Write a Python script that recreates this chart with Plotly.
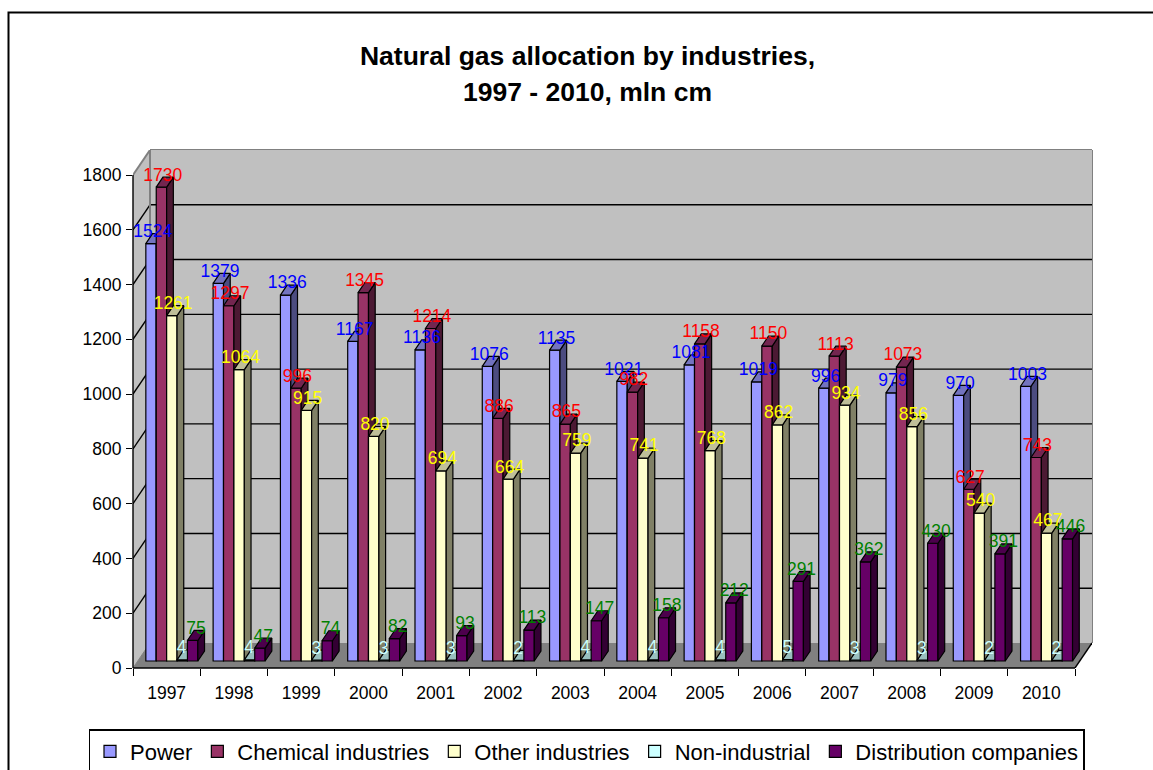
import plotly.graph_objects as go

years = [1997, 1998, 1999, 2000, 2001, 2002, 2003, 2004, 2005, 2006, 2007, 2008, 2009, 2010]
power = [1524, 1379, 1336, 1167, 1136, 1076, 1135, 1021, 1081, 1019, 996, 979, 970, 1003]
chemical = [1730, 1297, 996, 1345, 1214, 886, 865, 982, 1158, 1150, 1113, 1073, 627, 743]
other = [1261, 1064, 915, 820, 694, 664, 759, 741, 768, 862, 934, 856, 540, 467]
non_industrial = [4, 4, 3, 3, 3, 2, 4, 4, 4, 5, 3, 3, 2, 2]
distribution = [75, 47, 74, 82, 93, 113, 147, 158, 212, 291, 362, 430, 391, 446]
y_ticks = [0, 200, 400, 600, 800, 1000, 1200, 1400, 1600, 1800]

series = [
    ("Power", power, "#9999FF", "#4C4C80", "#7373BF", "#0000FF", 1.7),
    ("Chemical industries", chemical, "#993366", "#4C1933", "#732650", "#FF0000", 1.3),
    ("Other industries", other, "#FFFFCC", "#808066", "#BFBF99", "#FFFF00", 1.3),
    ("Non-industrial", non_industrial, "#CCFFFF", "#668080", "#99BFBF", "#CCFFFF", -0.5),
    ("Distribution companies", distribution, "#660066", "#330033", "#4C004C", "#008000", 3.3),
]

# The figure runs a little past the 770 px window: the chart frame and the legend box
# are cut off by the bottom of the picture, as in the reference.
W, H = 1153, 800
FONT = "Liberation Sans, Arial, sans-serif"
TICK_SIZE = 17.5
# pixel layout of the chart box
X0, X14 = 133.0, 1075.0
Y0, Y1800 = 668.0, 175.0
WALL_DX, WALL_DY = 17.0, 25.0
BAR_DX, BAR_DY = 6.7, 10.0
BAR_W = 10.4
SHIFT_X, SHIFT_Y = 5.2, 7.0

ux = (X14 - X0) / 14
uy = (Y0 - Y1800) / 1800
dx_wall, dy_wall = WALL_DX / ux, WALL_DY / uy
dx_bar, dy_bar = BAR_DX / ux, BAR_DY / uy
bw = BAR_W / ux
sx, base = SHIFT_X / ux, SHIFT_Y / uy
x_top = 14 + dx_wall
y_top = 1800 + dy_wall

dom_x = [X0 / W, (X14 + WALL_DX) / W]
dom_y = [(H - Y0) / H, (H - Y1800 + WALL_DY) / H]

fig = go.Figure()


def ax(n):
    return ("x", "y") if n == 1 else (f"x{n}", f"y{n}")


# invisible anchor for the base subplot
fig.add_trace(go.Scatter(x=[0], y=[0], mode="markers", marker=dict(opacity=0),
                         showlegend=False, hoverinfo="skip", xaxis="x", yaxis="y"))

label_traces = []
for k, (name, vals, col, side, top, lab, lab_dx) in enumerate(series):
    xa, ya = ax(k + 2)
    xs = [i + 0.5 + (k - 2) * bw + sx for i in range(len(years))]
    fig.add_trace(go.Bar(x=xs, y=vals, base=[base] * len(vals), width=bw, name=name,
                         marker=dict(color=col, line=dict(color="black", width=1.2)),
                         xaxis=xa, yaxis=ya, hoverinfo="name+text", text=None))
    sx_pts, sy_pts, tx_pts, ty_pts = [], [], [], []
    for xc, v in zip(xs, vals):
        l, r = xc - bw / 2, xc + bw / 2
        t = base + v
        sx_pts += [r, r + dx_bar, r + dx_bar, r, r, None]
        sy_pts += [base, base + dy_bar, t + dy_bar, t, base, None]
        tx_pts += [l, l + dx_bar, r + dx_bar, r, l, None]
        ty_pts += [t, t + dy_bar, t + dy_bar, t, t, None]
    for px, py, c in ((sx_pts, sy_pts, side), (tx_pts, ty_pts, top)):
        fig.add_trace(go.Scatter(x=px, y=py, mode="lines", fill="toself", fillcolor=c,
                                 line=dict(color="black", width=1.2), showlegend=False,
                                 hoverinfo="skip", xaxis=xa, yaxis=ya))
    label_traces.append(go.Scatter(
        x=[x + lab_dx / ux for x in xs], y=[base + v + 11 / uy for v in vals],
        text=[str(v) for v in vals], mode="text", textposition="middle center",
        textfont=dict(family=FONT, size=TICK_SIZE, color=lab), showlegend=False,
        hoverinfo="skip", cliponaxis=False, xaxis="x6", yaxis="y6"))
for t in label_traces:
    fig.add_trace(t)

shapes = []
# outer chart frame, running off the page at right and bottom
shapes.append(dict(type="rect", xref="paper", yref="paper", x0=8.5 / W, x1=1.05,
                   y0=-0.05, y1=(H - 12.5) / H, line=dict(color="black", width=2),
                   fillcolor="rgba(0,0,0,0)", layer="below"))
# back wall
shapes.append(dict(type="rect", xref="x", yref="y", x0=dx_wall, x1=x_top, y0=dy_wall, y1=y_top,
                   fillcolor="#C0C0C0", line=dict(width=0), layer="below"))
# left wall
shapes.append(dict(type="path", xref="x", yref="y",
                   path=f"M 0 0 L {dx_wall} {dy_wall} L {dx_wall} {y_top} L 0 1800 Z",
                   fillcolor="#C0C0C0", line=dict(width=0), layer="below"))
# floor
shapes.append(dict(type="path", xref="x", yref="y",
                   path=f"M 0 0 L {dx_wall} {dy_wall} L {x_top} {dy_wall} L 14 0 Z",
                   fillcolor="#808080", line=dict(width=0), layer="below"))
# grid on both walls
for v in y_ticks[1:-1]:
    shapes.append(dict(type="line", xref="x", yref="y", x0=dx_wall, x1=x_top,
                       y0=v + dy_wall, y1=v + dy_wall, line=dict(color="black", width=1.4),
                       layer="below"))
    shapes.append(dict(type="line", xref="x", yref="y", x0=0, x1=dx_wall,
                       y0=v, y1=v + dy_wall, line=dict(color="black", width=1.4), layer="below"))
# wall edges
grey = dict(color="#808080", width=2)
shapes += [
    dict(type="line", xref="x", yref="paper", x0=dx_wall, x1=x_top, y0=dom_y[1], y1=dom_y[1], line=grey, layer="below"),
    dict(type="line", xref="paper", yref="y", x0=dom_x[1], x1=dom_x[1], y0=dy_wall, y1=y_top, line=grey, layer="below"),
    dict(type="line", xref="x", yref="y", x0=dx_wall, x1=dx_wall, y0=dy_wall, y1=y_top, line=grey, layer="below"),
    dict(type="line", xref="x", yref="y", x0=0, x1=dx_wall, y0=1800, y1=y_top, line=grey, layer="below"),
    dict(type="line", xref="x", yref="y", x0=0, x1=dx_wall, y0=0, y1=dy_wall, line=dict(color="#808080", width=1), layer="below"),
    dict(type="line", xref="x", yref="y", x0=14, x1=x_top, y0=0, y1=dy_wall, line=dict(color="black", width=1.4), layer="below"),
    # axis lines
    dict(type="line", xref="paper", yref="y", x0=dom_x[0], x1=dom_x[0], y0=0, y1=1800, line=dict(color="black", width=1.4)),
    dict(type="line", xref="x", yref="paper", x0=0, x1=14, y0=dom_y[0], y1=dom_y[0], line=dict(color="black", width=1.6)),
]

layout = dict(
    width=W, height=H, margin=dict(l=0, r=0, t=0, b=0, pad=0), autosize=False,
    paper_bgcolor="white", plot_bgcolor="rgba(0,0,0,0)", barmode="overlay", showlegend=True,
    font=dict(family=FONT, color="black", size=TICK_SIZE),
    title=dict(
        text='<span style="font-size:26.5px"><b>Natural gas allocation by industries,</b></span><br>'
             '<span style="font-size:26.5px"><b>1997 - 2010, mln cm</b></span>',
        font=dict(family=FONT, size=28, color="black"),
        x=587.5 / W, xref="container", xanchor="center", y=1 - 64.5 / H, yref="container", yanchor="top"),
    legend=dict(orientation="h", x=586.5 / W, xref="paper", xanchor="center",
                y=(H - 729) / H, yref="paper", yanchor="top",
                bgcolor="white", bordercolor="black", borderwidth=1.5,
                font=dict(family=FONT, size=22, color="black"), traceorder="normal"),
    shapes=shapes,
    xaxis=dict(domain=dom_x, range=[0, x_top], automargin=False, tickmode="array",
               tickvals=[i + 0.5 for i in range(14)],
               ticktext=[str(y) for y in years], ticks="outside", ticklen=7, tickcolor="rgba(0,0,0,0)",
               ticklabelstandoff=2, showgrid=False, zeroline=False, showline=False, anchor="y",
               tickfont=dict(family=FONT, size=TICK_SIZE, color="black")),
    yaxis=dict(domain=dom_y, range=[0, y_top], automargin=False, tickmode="array", tickvals=y_ticks,
               ticks="outside", ticklen=6, tickwidth=1.4, tickcolor="black", showgrid=False,
               zeroline=False, showline=False, anchor="x", ticklabelstandoff=1,
               tickfont=dict(family=FONT, size=TICK_SIZE, color="black")),
    xaxis2=dict(domain=dom_x, range=[0, x_top], automargin=False, overlaying="x", anchor="y2", tickmode="array",
                tickvals=list(range(15)), showticklabels=False, ticks="outside", ticklen=7,
                tickwidth=1.4, tickcolor="black", showgrid=False, zeroline=False, showline=False),
    yaxis2=dict(domain=dom_y, range=[0, y_top], automargin=False, overlaying="y", anchor="x2", visible=False),
)
for n in range(3, 7):
    layout[f"xaxis{n}"] = dict(domain=dom_x, range=[0, x_top], automargin=False, overlaying="x", anchor=f"y{n}", visible=False)
    layout[f"yaxis{n}"] = dict(domain=dom_y, range=[0, y_top], automargin=False, overlaying="y", anchor=f"x{n}", visible=False)
fig.update_layout(**layout)

fig.write_html("out.html", config={"displayModeBar": False},
               post_script="document.body.style.margin='0';document.body.style.overflow='hidden';")
